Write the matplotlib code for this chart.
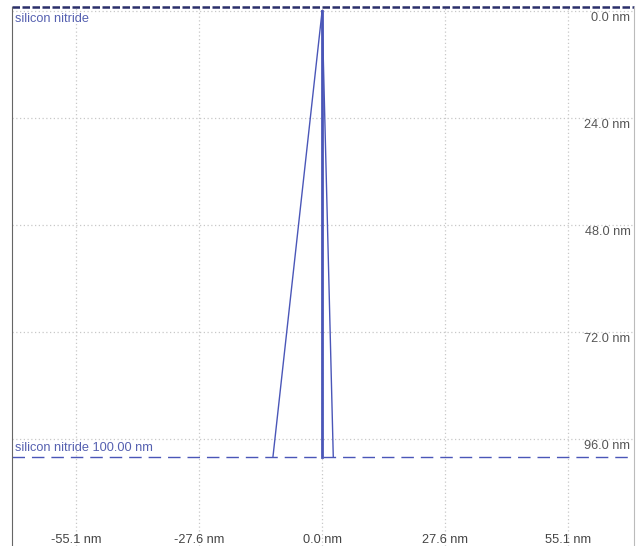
import matplotlib.pyplot as plt

# tip profile (nm), y measured downward from surface
left_x = [0.0, -11.0]
left_y = [0.0, 100.0]
center_x = [0.0, 0.0]
center_y = [0.0, 100.0]
right_x = [0.0, 2.5]
right_y = [0.0, 100.0]

x_ticks = [-55.1, -27.6, 0.0, 27.6, 55.1]
y_ticks = [0.0, 24.0, 48.0, 72.0, 96.0]
layer_depth = 100.0
layer_name = "silicon nitride"

plt.rcParams['font.family'] = ['Liberation Sans', 'DejaVu Sans']
line_col = '#4a56b8'
text_col = '#5560b0'
fs = 9.2

fig = plt.figure(figsize=(6.41, 5.46), dpi=100)
ax = fig.add_axes([12 / 641, 0.0, 622 / 641, 1 - 7 / 546])
ax.set_xlim(-69.4, 69.8)
ax.set_ylim(120.0, -0.9)

# grid
for xv in x_ticks:
    ax.axvline(xv, color='#c8c8c8', lw=0.9, ls=(0, (1, 2)), zorder=0)
for yv in y_ticks:
    ax.axhline(yv, color='#c8c8c8', lw=0.9, ls=(0, (1, 2)), zorder=0)

# surface line along the top edge, layer line at its depth
ax.plot([0, 1], [1, 1], transform=ax.transAxes, color='#2a2f6a', lw=1.8,
        ls=(0, (3, 1)), zorder=2, clip_on=False)
ax.axhline(layer_depth, color=line_col, lw=1.0, ls=(0, (9, 5)), zorder=2)

# tip
ax.plot(left_x, left_y, color=line_col, lw=1.0)
ax.plot(center_x, center_y, color=line_col, lw=2.0)
ax.plot(right_x, right_y, color=line_col, lw=1.0)

# labels
ax.text(-68.7, 1.8, layer_name, color=text_col, fontsize=fs, va='center', ha='left')
ax.text(-68.7, 99.4, f"{layer_name} {layer_depth:.2f} nm", color=text_col,
        fontsize=fs, va='bottom', ha='left')
for yv in y_ticks:
    ax.text(69.0, yv + 0.2, f"{yv:.1f} nm", color='#555555', fontsize=fs,
            va='top', ha='right')
for xv in x_ticks:
    ax.text(xv, 118.6, f"{xv:.1f} nm", color='#444444', fontsize=fs,
            va='center', ha='center')

ax.set_xticks([])
ax.set_yticks([])
for side in ['top', 'bottom']:
    ax.spines[side].set_visible(False)
ax.spines['left'].set_color('#666666')
ax.spines['right'].set_color('#bbbbbb')

fig.savefig('out.png', dpi=100)
